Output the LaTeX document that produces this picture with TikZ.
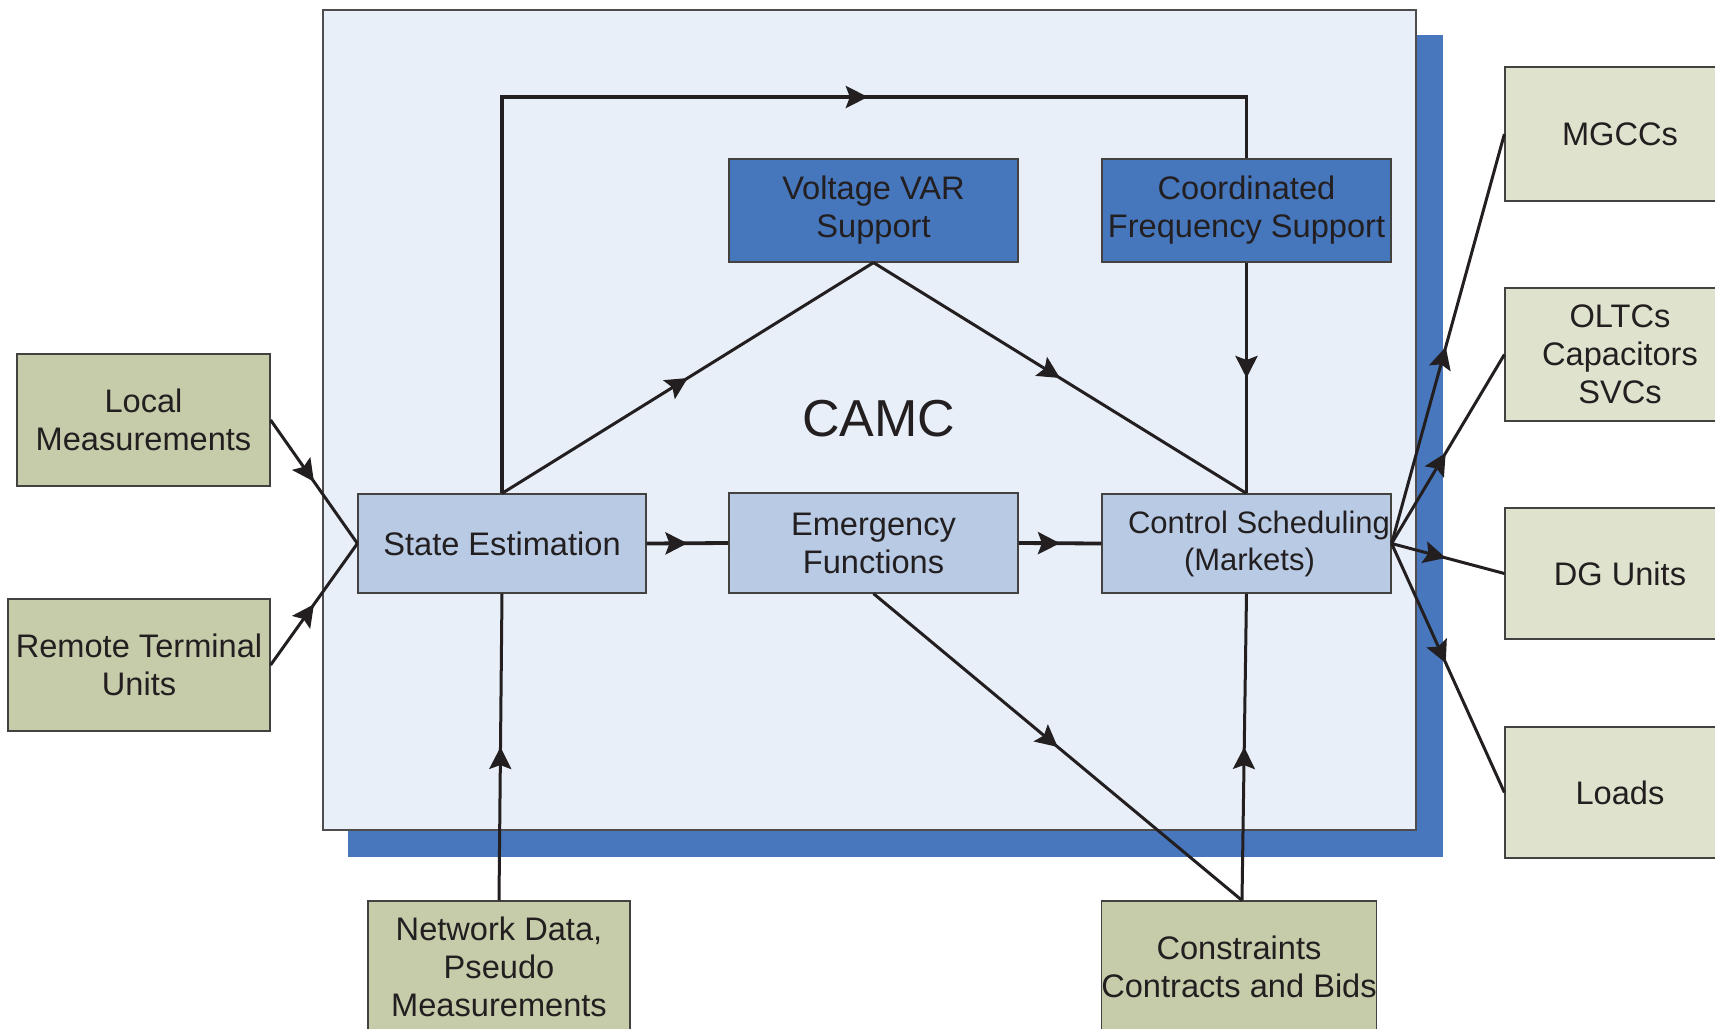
\documentclass[tikz,border=0pt]{standalone}
\usepackage{fontspec}
\setmainfont{Liberation Sans}
\usetikzlibrary{arrows.meta,decorations.markings}

\definecolor{ink}{HTML}{231F20}
\definecolor{camcbg}{HTML}{E8EFF9}
\definecolor{shadowblue}{HTML}{4877BD}
\definecolor{darkbox}{HTML}{4676BC}
\definecolor{lightbox}{HTML}{B8CAE4}
\definecolor{greenbox}{HTML}{C6CCAA}
\definecolor{palegreen}{HTML}{DFE3CD}

\tikzset{
  box/.style={draw=ink!85, line width=0.6pt, inner sep=0pt, align=center, text=ink,
    font=\fontsize{16.3}{19}\selectfont},
  bsize/.style 2 args={minimum width=#1*0.5pt, minimum height=#2*0.5pt},
  darkfn/.style={box, fill=darkbox},
  lightfn/.style={box, fill=lightbox},
  inbox/.style={box, fill=greenbox},
  outbox/.style={box, fill=palegreen},
  conn/.style={draw=ink, line width=1.5pt},
  heavy/.style={draw=ink, line width=1.9pt},
  midarrow/.style={postaction={decorate}, decoration={markings,
    mark=at position #1 with {\arrow{Stealth[length=11pt,width=11pt,inset=2pt]}}}},
  midarrow/.default=0.5
}

\begin{document}
\begin{tikzpicture}[x=0.5pt, y=-0.5pt]
\useasboundingbox (0,0) rectangle (1715,1029);
\clip (0,0) rectangle (1715,1029);

% CAMC frame with shadow
\fill[shadowblue] (348,35) rectangle (1443,857);
\node[draw=ink!80, line width=0.6pt, fill=camcbg, bsize={1093}{820}] (camc) at (869.5,420) {};
\node[text=ink, font=\fontsize{26}{30}\selectfont] (camclabel) at (879,419) {CAMC};

% inner function blocks
\node[darkfn, bsize={289}{103}] (VV) at (873.5,210.5) {Voltage VAR\\Support};
\node[darkfn, bsize={289}{103}] (CF) at (1246.5,210.5) {Coordinated\\Frequency Support};
\node[lightfn, bsize={288}{99}] (SE) at (502,543.5) {State Estimation};
\node[lightfn, bsize={289}{100}] (EF) at (873.5,543) {Emergency\\Functions};
\node[lightfn, bsize={289}{99}, text width=144.5pt, align=flush left,
  font=\fontsize{15.5}{18.5}\selectfont] (CS) at (1246.5,543.5)
  {\hspace*{13pt}Control Scheduling\\\hspace*{41pt}(Markets)};

% inputs
\node[inbox, bsize={253}{132}] (LM) at (143.5,420) {Local\\Measurements};
\node[inbox, bsize={262}{132}] (RT) at (139,665) {Remote Terminal\\Units};
\node[inbox, bsize={262}{131}] (ND) at (499,966.5) {Network Data,\\Pseudo\\Measurements};
\node[inbox, bsize={268}{131}] (CO) at (1239,966.5) {Constraints\\Contracts and Bids};

% outputs
\node[outbox, bsize={230}{134}] (MG) at (1620,134) {MGCCs};
\node[outbox, bsize={230}{133}] (OL) at (1620,354.5) {OLTCs\\Capacitors\\SVCs};
\node[outbox, bsize={230}{131}] (DG) at (1620,573.5) {DG Units};
\node[outbox, bsize={230}{131}] (LO) at (1620,792.5) {Loads};

% connectors
\coordinate (looptop) at (0,97);
\draw[heavy, midarrow=0.634] (SE.north) -- (SE.north |- looptop) -| (CF.north);

\draw[conn, midarrow] (LM.east) -- (SE.west);
\draw[conn, midarrow] (RT.east) -- (SE.west);

\draw[conn, midarrow] (SE.north) -- (VV.south);
\draw[conn, midarrow] (VV.south) -- (CS.north);
\draw[heavy, midarrow] (CF.south) -- (CS.north);

\draw[heavy, midarrow] (SE.east) -- (EF.west);
\draw[heavy, midarrow] (EF.east) -- (CS.west);

\draw[conn, midarrow] (EF.south) -- ([xshift=1.5pt]CO.north);
\draw[conn, midarrow] (ND.north) -- (SE.south);
\draw[conn, midarrow] ([xshift=1.5pt]CO.north) -- (CS.south);

\draw[conn, midarrow=0.48] (CS.east) -- (MG.west);
\draw[conn, midarrow=0.48] (CS.east) -- (OL.west);
\draw[conn, midarrow=0.48] (CS.east) -- (DG.west);
\draw[conn, midarrow=0.48] (CS.east) -- (LO.west);
\end{tikzpicture}
\end{document}
